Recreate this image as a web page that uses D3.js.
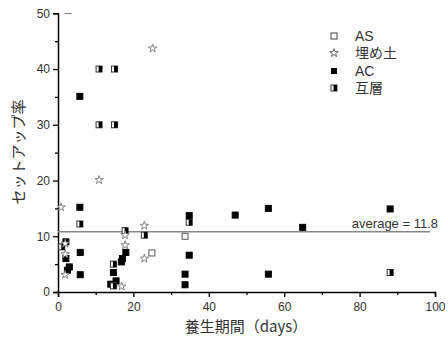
<!DOCTYPE html>
<html>
<head>
<meta charset="utf-8">
<script src="https://cdn.jsdelivr.net/npm/d3@7.9.0/dist/d3.min.js"></script>
<style>
  body { margin: 0; background: #fff; }
  svg text { font-family: "Liberation Sans", Arial, "Noto Sans CJK JP", sans-serif; fill: #333; }
</style>
</head>
<body>
<svg id="chart" width="448" height="341"></svg>
<script>
// AS (open squares)
const asX = [2.7, 24.9, 33.7];
const asY = [50.5, 7.0, 10.0];
// 埋め土 (stars)
const starX = [0.8, 1.9, 1.9, 1.9, 10.9, 25.1, 17.8, 17.8, 22.9, 22.9, 16.9];
const starY = [15.2, 8.7, 6.8, 3.1, 20.1, 43.7, 10.2, 8.4, 11.9, 6.0, 1.0];
// AC (filled squares)
const acX = [5.8, 5.8, 5.9, 5.9, 2.1, 2.1, 3.0, 2.5, 18.0, 17.1, 16.8, 14.7, 14.0, 15.4, 34.8, 47.0, 34.8, 33.7, 33.7, 55.8, 55.8, 64.9, 88.1];
const acY = [35.1, 15.2, 7.1, 3.1, 9.0, 6.0, 4.5, 3.9, 7.1, 6.0, 5.4, 3.5, 1.4, 2.0, 13.7, 13.8, 6.6, 3.2, 1.3, 15.0, 3.2, 11.6, 14.9];
// 互層 (half-filled squares)
const mixX = [10.9, 15.0, 10.9, 15.0, 5.8, 1.0, 17.8, 22.9, 14.7, 14.7, 34.8, 88.1];
const mixY = [40, 40, 30, 30, 12.2, 8.1, 11.0, 10.2, 5.0, 1.1, 12.5, 3.5];

const legendLabels = ['AS', '埋め土', 'AC', '互層'];
const avgLineY = 10.8;
const avgText = 'average = 11.8';

const svg = d3.select('#chart');
const x = d3.scaleLinear().domain([0, 100]).range([58, 435]);
const y = d3.scaleLinear().domain([0, 50]).range([292, 13.3]);

svg.append('clipPath').attr('id', 'plot')
  .append('rect').attr('x', 58).attr('y', 13.3).attr('width', 380).attr('height', 279);

// axes
const yAxis = svg.append('g').attr('transform', 'translate(58,0)')
  .call(d3.axisLeft(y).tickValues([0, 10, 20, 30, 40, 50]).tickSize(5).tickPadding(3));
yAxis.append('g').call(d3.axisLeft(y).tickValues([5, 15, 25, 35, 45]).tickSize(3).tickFormat(''));
const xAxis = svg.append('g').attr('transform', 'translate(0,292)')
  .call(d3.axisBottom(x).tickValues([0, 20, 40, 60, 80, 100]).tickSize(5).tickPadding(5));
xAxis.append('g').call(d3.axisBottom(x).tickValues([10, 30, 50, 70, 90]).tickSize(3).tickFormat(''));
svg.selectAll('.domain').attr('stroke', '#000').attr('stroke-width', 1.5);
svg.selectAll('g g .domain').remove();
svg.selectAll('.tick line').attr('stroke', '#000').attr('stroke-width', 1.3);
svg.selectAll('.tick text').style('font-size', '12px');

// axis titles
svg.append('text').attr('x', 246).attr('y', 332).attr('text-anchor', 'middle')
  .style('font-size', '15px').style('font-family', '"Noto Sans CJK JP", sans-serif')
  .text('養生期間（days）');
svg.append('text').attr('transform', 'translate(24,152) rotate(-90)').attr('text-anchor', 'middle')
  .style('font-size', '15px').style('font-family', '"Noto Sans CJK JP", sans-serif')
  .text('セットアップ率');

// average line
svg.append('line').attr('x1', x(0)).attr('x2', x(98.7)).attr('y1', y(avgLineY)).attr('y2', y(avgLineY))
  .attr('stroke', '#888').attr('stroke-width', 1.5);
svg.append('text').attr('x', 438).attr('y', y(avgLineY) - 4).attr('text-anchor', 'end')
  .style('font-size', '13px').text(avgText);

const pts = svg.append('g').attr('clip-path', 'url(#plot)');
const s = 6;
const star = d3.symbol().type(d3.symbolStar).size(22);

function squares(xs, ys, fill, stroke) {
  pts.selectAll(null).data(xs.map((v, i) => [v, ys[i]])).join('rect')
    .attr('x', d => x(d[0]) - s / 2).attr('y', d => y(d[1]) - s / 2)
    .attr('width', s).attr('height', s)
    .attr('fill', fill).attr('stroke', stroke).attr('stroke-width', 1);
}
squares(asX, asY, '#fff', '#555');
squares(acX, acY, '#000', '#000');
function halfSquares(g, data) {
  const m = g.selectAll(null).data(data).join('g')
    .attr('transform', d => `translate(${x(d[0])},${y(d[1])})`);
  m.append('rect').attr('x', -s / 2).attr('y', -s / 2).attr('width', s).attr('height', s)
    .attr('fill', '#fff').attr('stroke', '#333').attr('stroke-width', 1);
  m.append('rect').attr('x', -0.5).attr('y', -s / 2).attr('width', s / 2 + 0.5).attr('height', s).attr('fill', '#000');
}
halfSquares(pts, mixX.map((v, i) => [v, mixY[i]]));
pts.selectAll(null).data(starX.map((v, i) => [v, starY[i]])).join('path')
  .attr('d', star).attr('transform', d => `translate(${x(d[0])},${y(d[1])})`)
  .attr('fill', '#fff').attr('stroke', '#777').attr('stroke-width', 0.9);

// legend
const lg = svg.append('g');
const rowY = [36, 53, 71, 88];
legendLabels.forEach((label, i) => {
  const cx = 334, cy = rowY[i];
  if (i === 0) lg.append('rect').attr('x', cx - 3).attr('y', cy - 3).attr('width', 6).attr('height', 6).attr('fill', '#fff').attr('stroke', '#444');
  if (i === 1) lg.append('path').attr('d', star).attr('transform', `translate(${cx},${cy})`).attr('fill', '#fff').attr('stroke', '#555').attr('stroke-width', 0.9);
  if (i === 2) lg.append('rect').attr('x', cx - 3).attr('y', cy - 3).attr('width', 6).attr('height', 6).attr('fill', '#000');
  if (i === 3) halfSquares(lg, [[x.invert(cx), y.invert(cy)]]);
  lg.append('text').attr('x', 355).attr('y', cy + 5).style('font-size', '14px')
    .style('font-family', '"Liberation Sans", "Noto Sans CJK JP", sans-serif').text(label);
});
</script>
</body>
</html>
